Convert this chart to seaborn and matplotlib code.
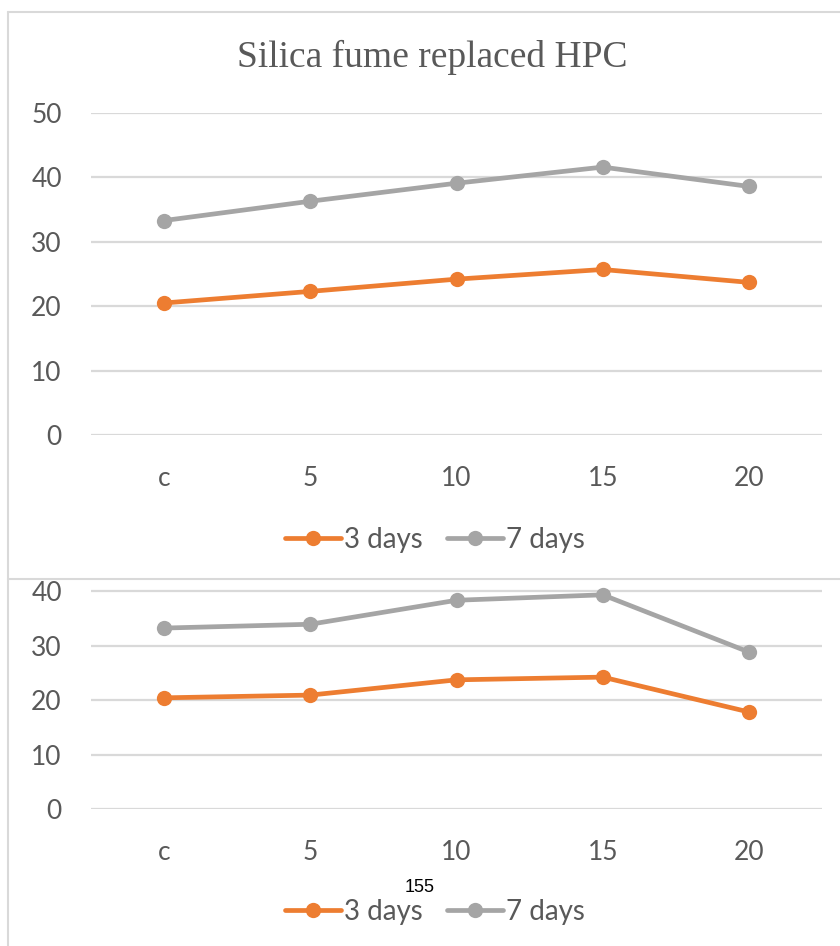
import pandas as pd
import matplotlib.pyplot as plt
import seaborn as sns
from matplotlib.lines import Line2D

# ---------------------------------------------------------------------------
# Data
# ---------------------------------------------------------------------------
categories = ["c", "5", "10", "15", "20"]
series_names = ["3 days", "7 days"]

top_3_days = [20.5, 22.3, 24.2, 25.7, 23.7]
top_7_days = [33.3, 36.3, 39.1, 41.6, 38.6]

bottom_3_days = [20.4, 20.9, 23.7, 24.2, 17.8]
bottom_7_days = [33.2, 33.9, 38.3, 39.3, 28.8]

title = "Silica fume replaced HPC"
page_number = "155"

ORANGE = "#ED7D31"
GRAY = "#A5A5A5"
TEXT = "#595959"
GRID = "#D9D9D9"


def long_form(a, b):
    return pd.DataFrame({
        "mix": categories * 2,
        "strength": a + b,
        "age": [series_names[0]] * len(categories) + [series_names[1]] * len(categories),
    })


# ---------------------------------------------------------------------------
# Figure
# ---------------------------------------------------------------------------
sns.set_style("white")
plt.rcParams["font.family"] = ["Lato", "DejaVu Sans"]

W, H = 840, 946
fig = plt.figure(figsize=(W / 100, H / 100), dpi=100)


def px_axes(x0, y_top, x1, y_bot, **kw):
    return fig.add_axes([x0 / W, 1 - y_bot / H, (x1 - x0) / W, (y_bot - y_top) / H], **kw)


def style_axes(ax, ymax, ticks):
    ax.set_xlim(-0.5, len(categories) - 0.5)
    ax.set_ylim(0, ymax)
    ax.set_yticks(ticks)
    ax.yaxis.grid(True, color=GRID, lw=1.6)
    ax.xaxis.grid(False)
    ax.set_axisbelow(True)
    for s in ax.spines.values():
        s.set_visible(False)
    ax.tick_params(axis="y", length=0, pad=21, labelsize=19, labelcolor=TEXT)
    ax.tick_params(axis="x", length=0, pad=22, labelsize=19, labelcolor=TEXT)
    ax.set_xlabel("")
    ax.set_ylabel("")


def draw(ax, df, legend_y):
    sns.lineplot(data=df, x="mix", y="strength", hue="age", palette=[ORANGE, GRAY],
                 marker="o", markersize=11, markeredgewidth=0, lw=3.4, ax=ax,
                 sort=False, legend=False)
    handles = [Line2D([], [], color=c, lw=3.4, marker="o", markersize=11, markeredgewidth=0)
               for c in (ORANGE, GRAY)]
    ax.legend(handles, series_names, loc="center", ncol=2, frameon=False,
              bbox_to_anchor=(435 / W, 1 - legend_y / H), bbox_transform=fig.transFigure,
              handlelength=2.0, handletextpad=0.1, columnspacing=0.9,
              prop={"size": 20}, labelcolor=TEXT)


# bottom chart (partly hidden under the top one)
ax2 = px_axes(91, 579, 822, 809, zorder=1)
draw(ax2, long_form(bottom_3_days, bottom_7_days), 912)
style_axes(ax2, 230 / 5.45, [0, 10, 20, 30, 40])

# white panel for the top chart, covers the clipped top of the bottom chart
panel = px_axes(9, 13, 840, 579, zorder=2)
panel.set_facecolor("white")
panel.set_xticks([])
panel.set_yticks([])
for s in panel.spines.values():
    s.set_visible(False)

# top chart
ax1 = px_axes(91, 113, 822, 435, zorder=3)
ax1.patch.set_alpha(0)
draw(ax1, long_form(top_3_days, top_7_days), 540)
style_axes(ax1, 50, [0, 10, 20, 30, 40, 50])

fig.text(432 / W, 1 - 57 / H, title, ha="center", va="center", fontsize=27,
         color=TEXT, family=["Liberation Serif"], zorder=5)

# chart borders
for xs, ys in [((8, 840), (12, 12)), ((8, 8), (12, 946)), ((8, 840), (579, 579))]:
    fig.add_artist(Line2D([x / W for x in xs], [1 - y / H for y in ys],
                          color=GRID, lw=1.5, zorder=10))

fig.text(420 / W, 1 - 887 / H, page_number, ha="center", va="center", fontsize=13,
         color="black", family=["Liberation Sans"], zorder=11)

fig.savefig("out.png", dpi=100)
